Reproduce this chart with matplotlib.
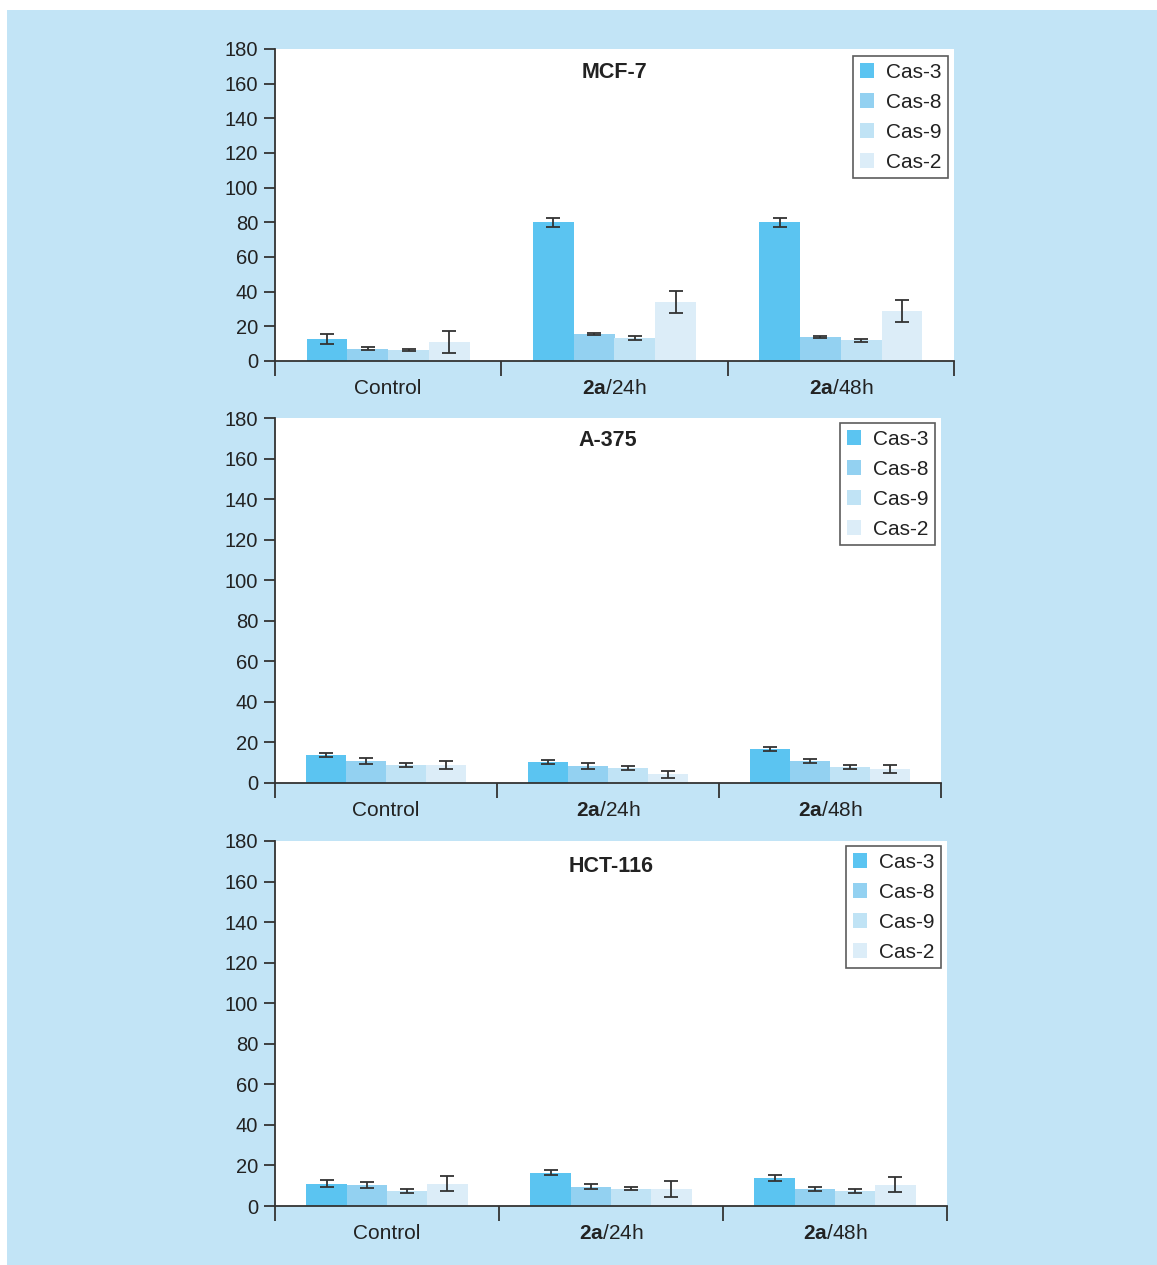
import matplotlib
matplotlib.use("Agg")
import matplotlib.pyplot as plt
import numpy as np
from matplotlib.patches import Rectangle

plt.rcParams['font.family'] = ['Liberation Sans', 'DejaVu Sans']
plt.rcParams['mathtext.fontset'] = 'custom'
plt.rcParams['mathtext.rm'] = 'Liberation Sans'
plt.rcParams['mathtext.bf'] = 'Liberation Sans:bold'

groups = ["Control", r"$\mathbf{2a}$/24h", r"$\mathbf{2a}$/48h"]
series = ["Cas-3", "Cas-8", "Cas-9", "Cas-2"]
colors = ["#5bc4f1", "#93d1f1", "#c0e3f5", "#dcedf8"]
titles = ["MCF-7", "A-375", "HCT-116"]
yticks = [0, 20, 40, 60, 80, 100, 120, 140, 160, 180]

# values[series][group]
mcf7_vals = [[12.7, 80, 80], [7, 15.6, 13.8], [6.3, 13.3, 12], [11, 34, 28.9]]
mcf7_errs = [[2.8, 2.6, 2.6], [0.8, 0.4, 0.8], [0.8, 0.9, 0.8], [6.5, 6.4, 6.5]]
a375_vals = [[13.8, 10.4, 16.8], [10.8, 8.4, 10.8], [8.9, 7.4, 7.9], [8.9, 4.4, 6.9]]
a375_errs = [[1.0, 1.0, 1.0], [1.5, 1.5, 1.1], [1.1, 1.2, 1.2], [1.8, 1.7, 2.0]]
hct_vals = [[11.0, 16.4, 13.9], [10.5, 9.5, 8.5], [7.5, 8.5, 7.5], [11.0, 8.5, 10.5]]
hct_errs = [[1.6, 1.3, 1.5], [1.4, 1.2, 1.1], [1.1, 0.7, 1.0], [3.6, 4.0, 3.6]]

data = [(mcf7_vals, mcf7_errs), (a375_vals, a375_errs), (hct_vals, hct_errs)]

W, H = 1157, 1265
fig = plt.figure(figsize=(W / 100, H / 100), dpi=100)
fig.patch.set_facecolor("white")
bg = "#c2e4f6"
fig.patches.append(Rectangle((7 / W, 0), 1 - 7 / W, 1 - 10 / H, transform=fig.transFigure,
                             facecolor=bg, edgecolor="none", zorder=-10))

# axes boxes in pixels: left, right, top(180), bottom(0)
boxes = [(275, 954, 49, 361), (275, 941, 418, 783), (275, 947, 841, 1206)]
legend_pos = [(853, 56), (840, 423), (846, 846)]
title_y = [72, 440, 867]

bw = 0.18
for i, ((l, r, t, b), (vals, errs)) in enumerate(zip(boxes, data)):
    ax = fig.add_axes([l / W, 1 - b / H, (r - l) / W, (b - t) / H])
    ax.set_facecolor("white")
    x = np.arange(len(groups))
    handles = []
    for s in range(len(series)):
        pos = x + (s - 1.5) * bw
        h = ax.bar(pos, vals[s], width=bw, color=colors[s], label=series[s], zorder=2)
        ax.errorbar(pos, vals[s], yerr=errs[s], fmt="none", ecolor="#333333",
                    elinewidth=1.3, capsize=5, capthick=1.3, zorder=3)
        handles.append(h)
    ax.set_xlim(-0.5, 2.5)
    ax.set_ylim(0, 180)
    ax.set_yticks(yticks)
    ax.set_xticks([-0.5, 0.5, 1.5, 2.5])
    ax.set_xticklabels([])
    ax.set_xticks(x, minor=True)
    ax.set_xticklabels(groups, minor=True, fontsize=15, color="#222222")
    ax.tick_params(axis="x", which="minor", length=0, pad=13)
    ax.tick_params(axis="x", which="major", length=11, width=1.3, direction="out", color="#333333")
    ax.tick_params(axis="y", length=8, width=1.3, direction="out", labelsize=14.5,
                   color="#333333", labelcolor="#222222", pad=4)
    for sp in ["top", "right"]:
        ax.spines[sp].set_visible(False)
    for sp in ["left", "bottom"]:
        ax.spines[sp].set_linewidth(1.3)
        ax.spines[sp].set_color("#333333")
    ax.text(0.5, 1 - (title_y[i] - t) / (b - t), titles[i], transform=ax.transAxes,
            ha="center", va="center", fontsize=15.5, fontweight="bold", color="#222222")
    lx, ly = legend_pos[i]
    leg = ax.legend(handles=handles, loc="upper left",
                    bbox_to_anchor=((lx - l) / (r - l), 1 - (ly - t) / (b - t)),
                    fontsize=15, frameon=True, fancybox=False, handlelength=0.7,
                    handleheight=0.7, handletextpad=0.55, labelspacing=0.53,
                    borderpad=0.32, borderaxespad=0)
    leg.get_frame().set_edgecolor("#333333")
    leg.get_frame().set_linewidth(1.2)
    for txt in leg.get_texts():
        txt.set_color("#222222")

fig.savefig("out.png", dpi=100, facecolor=fig.get_facecolor())
